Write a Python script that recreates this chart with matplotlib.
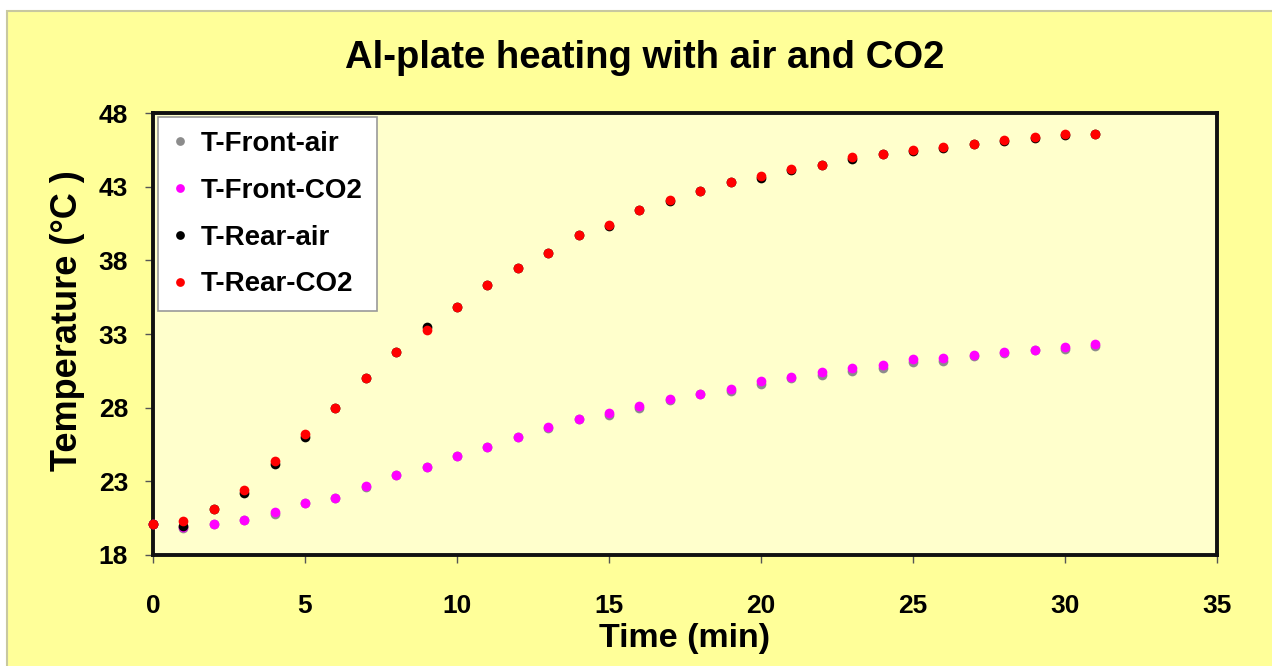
import matplotlib
matplotlib.use("Agg")
import matplotlib.pyplot as plt
from matplotlib.patches import Rectangle

time_min = list(range(32))
t_front_air = [20.1, 19.8, 20.1, 20.4, 20.8, 21.5, 21.9, 22.6, 23.4, 24.0, 24.7, 25.3,
               26.0, 26.6, 27.2, 27.5, 28.0, 28.5, 28.9, 29.1, 29.6, 30.0, 30.2, 30.5,
               30.7, 31.1, 31.2, 31.5, 31.7, 31.9, 32.0, 32.2]
t_front_co2 = [20.1, 19.9, 20.1, 20.4, 20.9, 21.5, 21.9, 22.7, 23.4, 24.0, 24.7, 25.3,
               26.0, 26.7, 27.2, 27.65, 28.1, 28.6, 28.9, 29.3, 29.8, 30.1, 30.4, 30.7,
               30.9, 31.3, 31.4, 31.6, 31.8, 31.9, 32.1, 32.3]
t_rear_air = [20.1, 20.0, 21.1, 22.2, 24.2, 26.0, 28.0, 30.0, 31.8, 33.5, 34.8, 36.3,
              37.5, 38.5, 39.7, 40.3, 41.4, 42.0, 42.7, 43.3, 43.6, 44.1, 44.5, 44.9,
              45.2, 45.4, 45.6, 45.9, 46.1, 46.3, 46.5, 46.6]
t_rear_co2 = [20.1, 20.3, 21.1, 22.4, 24.4, 26.2, 28.0, 30.0, 31.8, 33.3, 34.8, 36.3,
              37.5, 38.5, 39.7, 40.4, 41.4, 42.1, 42.7, 43.3, 43.7, 44.2, 44.5, 45.0,
              45.2, 45.5, 45.7, 45.9, 46.2, 46.4, 46.6, 46.6]

series_labels = ["T-Front-air", "T-Front-CO2", "T-Rear-air", "T-Rear-CO2"]
series_colors = ["#8c8c8c", "#ff00ff", "#000000", "#ff0000"]
x_ticks = [0, 5, 10, 15, 20, 25, 30, 35]
y_ticks = [18, 23, 28, 33, 38, 43, 48]

plt.rcParams['font.family'] = ['Liberation Sans', 'DejaVu Sans']
plt.rcParams['font.weight'] = 'bold'

W, H = 1272, 666
fig = plt.figure(figsize=(W / 100, H / 100), dpi=100, facecolor="white")
fig.patches.append(Rectangle((7 / W, -0.01), 1.0, 1 - 11 / H + 0.01,
                             transform=fig.transFigure, facecolor="#ffff99",
                             edgecolor="#c8c8a0", linewidth=1.5, zorder=-10))

ax = fig.add_axes([153 / W, 1 - 555 / H, (1217 - 153) / W, (555 - 113) / H])
ax.set_zorder(1)
ax.set_facecolor("#ffffcc")

for ys, lab, col in zip([t_front_air, t_front_co2, t_rear_air, t_rear_co2],
                        series_labels, series_colors):
    ax.plot(time_min, ys, linestyle="none", marker="o", markersize=7,
            color=col, markeredgewidth=0, label=lab, clip_on=False, zorder=3)

ax.set_xlim(0, 35)
ax.set_ylim(18, 48)
ax.set_xticks(x_ticks)
ax.set_yticks(y_ticks)
ax.tick_params(axis="both", direction="out", length=6, width=1, color="#555555",
               labelsize=19)
ax.tick_params(axis="x", pad=22)
ax.tick_params(axis="y", pad=12)
for s in ax.spines.values():
    s.set_linewidth(2.8)
    s.set_color("#111111")

ax.set_xlabel("Time (min)", fontsize=24.5, fontweight="bold", labelpad=4)
ax.set_ylabel("Temperature (°C )", fontsize=26, fontweight="bold", labelpad=10)
ax.yaxis.label.set_y(0.53)
fig.text(645 / W, 1 - 58 / H, "Al-plate heating with air and CO2", ha="center",
         va="center", fontsize=27.5, fontweight="bold")

leg = ax.legend(loc="upper left", bbox_to_anchor=(0.0047, 0.991), borderaxespad=0,
                frameon=True, fancybox=False, edgecolor="#999999", facecolor="white",
                framealpha=1, fontsize=20, handlelength=0.6, handletextpad=0.45,
                borderpad=0.5, labelspacing=0.75, markerscale=0.9)
leg.get_frame().set_linewidth(1.2)

fig.savefig("out.png", dpi=100, facecolor=fig.get_facecolor())
